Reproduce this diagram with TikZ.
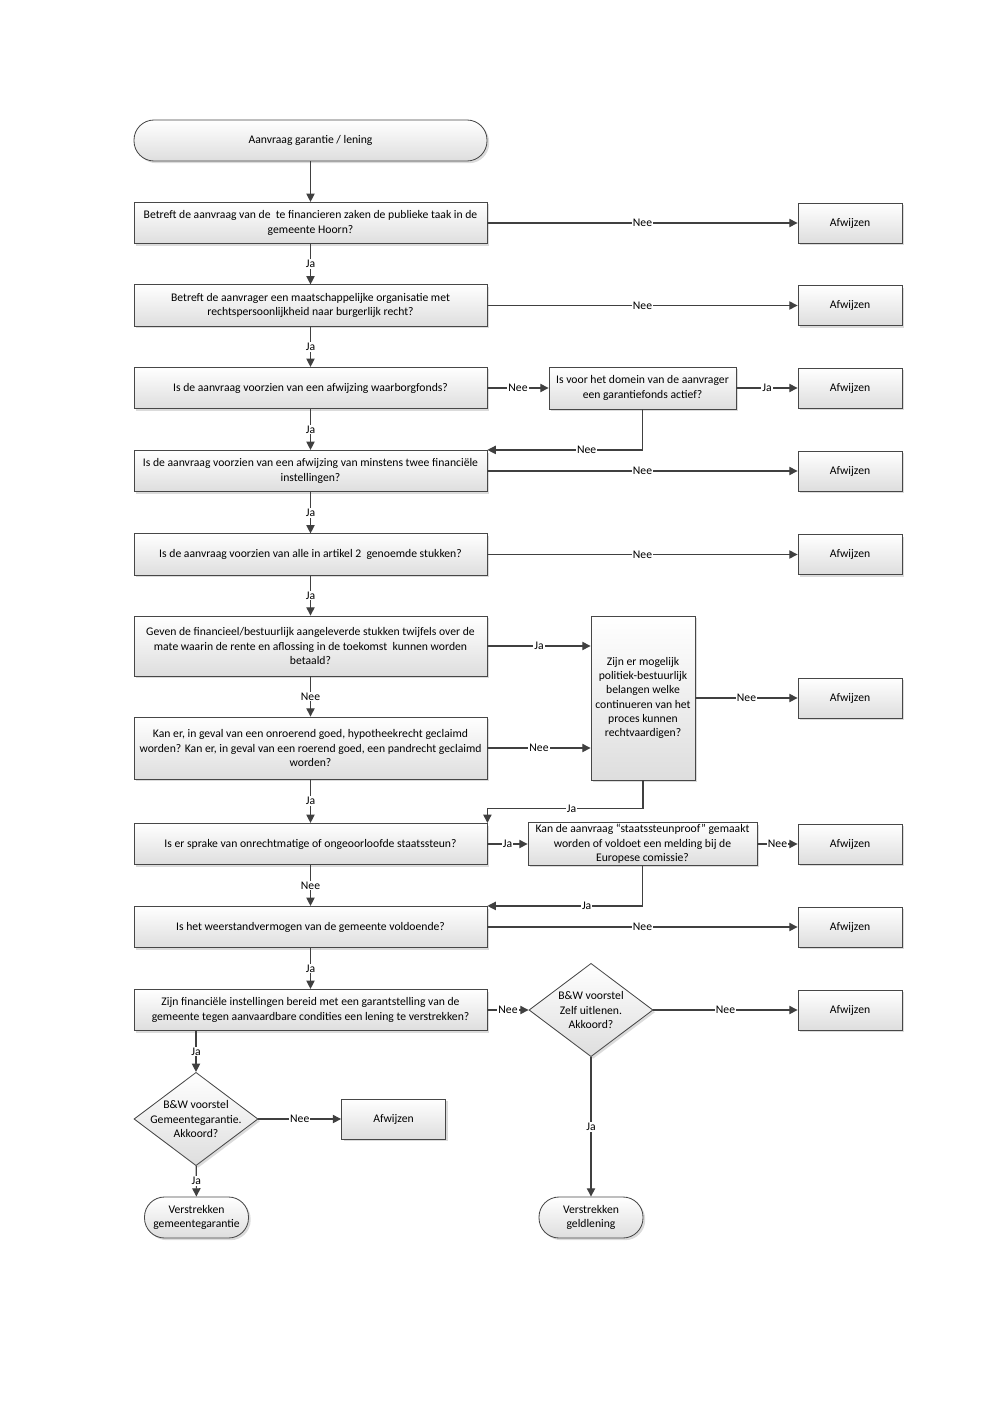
\documentclass[tikz,border=0pt]{standalone}
\usepackage{fontspec}
\setmainfont{Carlito}
\usetikzlibrary{shapes.geometric,arrows.meta,shadows}
\newcommand*{\colx}{310.5}
\newcommand*{\midx}{642.5}
\newcommand*{\rejx}{850}
\newcommand*{\lftx}{196}
\newcommand*{\klein}{\fontsize{7}{8.6}\selectfont}

\tikzset{
  base/.style={draw=black!72, line width=0.5pt, top color=white, bottom color=black!13,
    drop shadow={shadow xshift=1.3pt, shadow yshift=-1.3pt, fill=black!28},
    align=center, inner sep=1pt, font=\klein},
  vraag/.style={base, minimum width=211.8pt, minimum height=24.8pt},
  afwijzen/.style={base, minimum width=62.4pt, minimum height=24pt},
  eind/.style={base, rounded corners=12pt, minimum width=62.4pt, minimum height=24.6pt},
  beslis/.style={base, diamond, minimum width=74.4pt, minimum height=56pt, inner sep=0pt},
  beslistekst/.style={align=center, inner sep=0pt, font=\klein},
  pijl/.style={draw=black!75, line width=0.7pt, -{Triangle[length=5pt,width=5pt]}},
  lbl/.style={fill=white, inner sep=0.6pt, font=\klein},
}

\begin{document}
\begin{tikzpicture}[x=0.6pt, y=-0.6pt]
    \useasboundingbox (0,0) rectangle (992,1403);
    % main column
    \node [eind, minimum width=211.8pt] (start) at (\colx,140.5) {Aanvraag garantie / lening};
    \node [vraag] (v1) at (\colx,223) {Betreft de aanvraag van de\ \ te financieren zaken de publieke taak in de\\gemeente Hoorn?};
    \node [vraag] (v2) at (\colx,305.5) {Betreft de aanvrager een maatschappelijke organisatie met\\rechtspersoonlijkheid naar burgerlijk recht?};
    \node [vraag] (v3) at (\colx,388) {Is de aanvraag voorzien van een afwijzing waarborgfonds?};
    \node [vraag] (v4) at (\colx,471) {Is de aanvraag voorzien van een afwijzing van minstens twee financiële\\instellingen?};
    \node [vraag] (v5) at (\colx,554.5) {Is de aanvraag voorzien van alle in artikel 2\ \ genoemde stukken?};
    \node [vraag, minimum height=36pt] (v6) at (\colx,646) {Geven de financieel/bestuurlijk aangeleverde stukken twijfels over de\\mate waarin de rente en aflossing in de toekomst\ \ kunnen worden\\betaald?};
    \node [vraag, minimum height=37.2pt] (v7) at (\colx,748) {Kan er, in geval van een onroerend goed, hypotheekrecht geclaimd\\worden? Kan er, in geval van een roerend goed, een pandrecht geclaimd\\worden?};
    \node [vraag] (v8) at (\colx,844) {Is er sprake van onrechtmatige of ongeoorloofde staatssteun?};
    \node [vraag] (v9) at (\colx,927) {Is het weerstandvermogen van de gemeente voldoende?};
    \node [vraag] (v10) at (\colx,1010) {Zijn financiële instellingen bereid met een garantstelling van de\\gemeente tegen aanvaardbare condities een lening te verstrekken?};
    % middle column
    \node [base, minimum width=112.2pt, minimum height=25.2pt] (fonds) at (\midx,388) {Is voor het domein van de aanvrager\\een garantiefonds actief?};
    \node [base, minimum width=62.4pt, minimum height=98.4pt] (polb) at (643,698) {Zijn er mogelijk\\politiek-bestuurlijk\\belangen welke\\continueren van het\\proces kunnen\\rechtvaardigen?};
    \node [base, minimum width=137.4pt, minimum height=25.2pt] (europa) at (\midx,844) {Kan de aanvraag “staatssteunproof” gemaakt\\worden of voldoet een melding bij de\\Europese comissie?};
    \node [beslis] (zelf) at (591,1010) {};
    \node [beslistekst] (zelftxt) at (zelf) {B\&W voorstel\\Zelf uitlenen.\\Akkoord?};
    \node [eind] (geld) at (591,1217.5) {Verstrekken\\geldlening};
    % left bottom
    \node [beslis] (garant) at (\lftx,1119) {};
    \node [beslistekst] (garanttxt) at (garant) {B\&W voorstel\\Gemeentegarantie.\\Akkoord?};
    \node [afwijzen] (a10) at (393.5,1119) {Afwijzen};
    \node [eind] (gemgar) at (196.5,1217.5) {Verstrekken\\gemeentegarantie};
    % right column
    \node [afwijzen] (a1) at (\rejx,223) {Afwijzen};
    \node [afwijzen] (a2) at (\rejx,305.5) {Afwijzen};
    \node [afwijzen] (a3) at (\rejx,388) {Afwijzen};
    \node [afwijzen] (a4) at (\rejx,471) {Afwijzen};
    \node [afwijzen] (a5) at (\rejx,554.5) {Afwijzen};
    \node [afwijzen] (a6) at (\rejx,698) {Afwijzen};
    \node [afwijzen] (a7) at (\rejx,844) {Afwijzen};
    \node [afwijzen] (a8) at (\rejx,927) {Afwijzen};
    \node [afwijzen] (a9) at (\rejx,1010) {Afwijzen};

    % connectors
    \draw [pijl] (start) -- (v1);
    \draw [pijl] (v1) -- node[lbl] {Ja} (v2);
    \draw [pijl] (v2) -- node[lbl] {Ja} (v3);
    \draw [pijl] (v3) -- node[lbl] {Ja} (v4);
    \draw [pijl] (v4) -- node[lbl] {Ja} (v5);
    \draw [pijl] (v5) -- node[lbl] {Ja} (v6);
    \draw [pijl] (v6) -- node[lbl] {Nee} (v7);
    \draw [pijl] (v7) -- node[lbl] {Ja} (v8);
    \draw [pijl] (v8) -- node[lbl] {Nee} (v9);
    \draw [pijl] (v9) -- node[lbl] {Ja} (v10);

    \draw [pijl] (v1) -- node[lbl] {Nee} (a1);
    \draw [pijl] (v2) -- node[lbl] {Nee} (a2);
    \draw [pijl] (v3) -- node[lbl] {Nee} (fonds);
    \draw [pijl] (fonds) -- node[lbl] {Ja} (a3);
    \draw [pijl] (fonds.south) |- node[lbl, pos=0.68] {Nee} (v4.north east);
    \draw [pijl] (v4) -- node[lbl] {Nee} (a4);
    \draw [pijl] (v5) -- node[lbl] {Nee} (a5);
    \draw [pijl] (v6.east) -- node[lbl] {Ja} (v6.east -| polb.west);
    \draw [pijl] (v7.east) -- node[lbl] {Nee} (v7.east -| polb.west);
    \draw [pijl] (polb) -- node[lbl] {Nee} (a6);
    \draw [pijl] (polb.south) -- ++(0,28) -| node[lbl, pos=0.23] {Ja} (v8.north east);
    \draw [pijl] (v8) -- node[lbl] {Ja} (europa);
    \draw [pijl] (europa) -- node[lbl] {Nee} (a7);
    \draw [pijl] (europa.south) |- node[lbl, pos=0.68] {Ja} (v9.north east);
    \draw [pijl] (v9) -- node[lbl] {Nee} (a8);
    \draw [pijl] (v10) -- node[lbl] {Nee} (zelf);
    \draw [pijl] (zelf) -- node[lbl] {Nee} (a9);
    \draw [pijl] (zelf) -- node[lbl] {Ja} (geld);
    \draw [pijl] (v10.south -| garant.north) -- node[lbl] {Ja} (garant);
    \draw [pijl] (garant) -- node[lbl] {Nee} (a10);
    \draw [pijl] (garant) -- node[lbl] {Ja} (gemgar);
\end{tikzpicture}
\end{document}
